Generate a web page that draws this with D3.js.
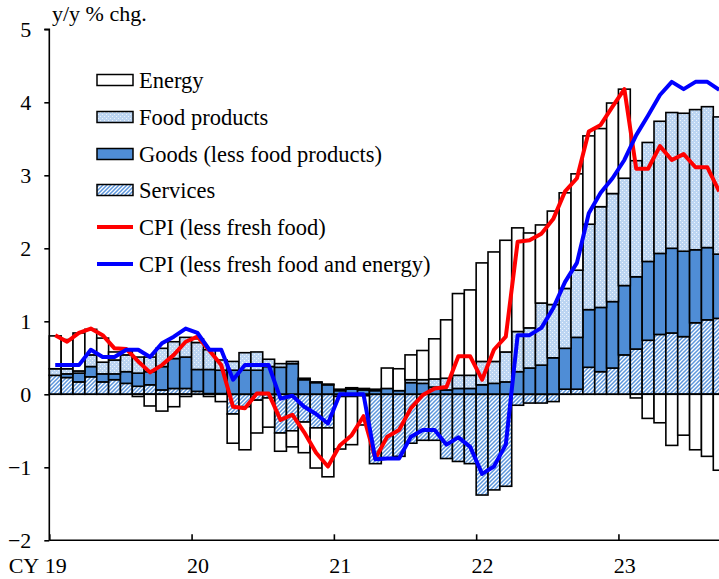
<!DOCTYPE html>
<html><head><meta charset="utf-8">
<script src="https://cdn.jsdelivr.net/npm/d3@7"></script>
<style>
html,body{margin:0;padding:0;background:#fff;}
svg{display:block;font-family:"Liberation Serif","Times New Roman",serif;}
</style></head>
<body>
<svg id="chart" width="719" height="579"></svg>
<script>
// ---- data (contributions, y/y % chg.) Jan 2019 - Sep 2023 ----
const months = [
"2019-01","2019-02","2019-03","2019-04","2019-05","2019-06","2019-07","2019-08","2019-09","2019-10","2019-11","2019-12",
"2020-01","2020-02","2020-03","2020-04","2020-05","2020-06","2020-07","2020-08","2020-09","2020-10","2020-11","2020-12",
"2021-01","2021-02","2021-03","2021-04","2021-05","2021-06","2021-07","2021-08","2021-09","2021-10","2021-11","2021-12",
"2022-01","2022-02","2022-03","2022-04","2022-05","2022-06","2022-07","2022-08","2022-09","2022-10","2022-11","2022-12",
"2023-01","2023-02","2023-03","2023-04","2023-05","2023-06","2023-07","2023-08","2023-09"];

const services = [
.26,.23,.17,.24,.17,.20,.15,.11,.13,.06,.08,.08,
.04,.01,.01,-.27,-.17,-.08,-.05,-.53,-.50,-.38,-.46,-.46,
-.03,-.03,-.02,-.95,-.88,-.85,-.67,-.63,-.63,-.88,-.92,-.95,
-1.38,-1.31,-1.26,-.15,-.12,-.12,-.10,.07,.07,.37,.31,.36,
.54,.62,.74,.82,.84,.79,.98,1.02,1.04];

const goods = [
0,.05,.12,.14,.11,.08,.16,.18,.18,.32,.41,.43,
.30,.33,.32,.33,.33,.33,.38,.37,.42,.20,.16,.13,
.05,.07,.06,.05,.08,.05,.16,.15,.10,.06,.08,.08,
.13,.15,.17,.31,.36,.40,.50,.56,.71,.79,.88,.91,
.95,.99,1.08,1.11,1.16,1.17,1.00,.99,.88];

const food = [
.09,.07,.03,.16,.16,.19,.23,.22,.20,.25,.23,.27,
.37,.27,.14,.12,.24,.25,.10,.05,.03,.02,.01,.01,
.02,.02,.02,0,0,0,.04,.05,.11,.16,.18,.18,
.32,.30,.41,.55,.55,.85,.73,.82,.92,1.17,1.38,1.48,
1.47,1.59,1.63,1.81,1.86,1.89,1.92,1.93,1.88];

const energy = [
.45,.40,.52,.35,.33,.11,.05,-.03,-.16,-.23,-.17,-.03,
.05,-.03,-.10,-.40,-.59,-.45,-.40,-.25,-.22,-.42,-.55,-.67,
-.72,-.66,-.40,.02,.28,.30,.34,.40,.55,.80,1.12,1.17,
1.35,1.50,1.53,1.42,1.30,1.07,1.28,1.31,1.32,1.21,1.07,1.24,
1.22,-.05,-.33,-.39,-.70,-.56,-.76,-.85,-1.04];

const cpiCore = [
.81,.72,.84,.90,.81,.63,.62,.45,.30,.40,.54,.72,
.79,.60,.40,-.17,-.19,.01,.01,-.35,-.28,-.52,-.80,-.99,
-.70,-.56,-.30,-.88,-.58,-.49,-.19,-.01,.08,.10,.52,.52,
.20,.61,.79,2.09,2.11,2.20,2.40,2.78,2.96,3.60,3.69,3.94,
4.18,3.09,3.09,3.40,3.21,3.29,3.11,3.11,2.78];

const cpiCoreCore = [
.40,.40,.40,.61,.51,.51,.61,.61,.51,.70,.79,.90,
.84,.61,.61,.20,.40,.40,.40,-.06,-.02,-.17,-.27,-.40,
0,0,0,-.89,-.88,-.88,-.58,-.49,-.49,-.69,-.59,-.72,
-1.09,-.99,-.69,.81,.81,.91,1.18,1.54,1.80,2.48,2.76,2.96,
3.21,3.55,3.82,4.10,4.28,4.18,4.28,4.28,4.17];

const yTicks = [-2,-1,0,1,2,3,4,5];
const yearStarts = [0,12,24,36,48];
const yearLabels = ["19","20","21","22","23"];
const seriesNames = ["Energy","Food products","Goods (less food products)","Services","CPI (less fresh food)","CPI (less fresh food and energy)"];

// ---- layout ----
const FONT = "Liberation Serif";
const svg = d3.select("#chart");
const x0 = 49.3, step = 11.857;
const x = d3.scaleBand().domain(d3.range(months.length)).range([x0, x0 + step*months.length]).padding(0);
const y = d3.scaleLinear().domain([-2,5]).range([540.3, 29.3]);

const defs = svg.append("defs");
const pf = defs.append("pattern").attr("id","food").attr("patternUnits","userSpaceOnUse").attr("width",4).attr("height",4);
pf.append("rect").attr("width",4).attr("height",4).attr("fill","#bcd5f2");
[[0,0,"#eef4fc"],[2,2,"#eef4fc"]].forEach(p=>{
  pf.append("rect").attr("x",p[0]).attr("y",p[1]).attr("width",1).attr("height",1).attr("fill",p[2]);
});
const ps = defs.append("pattern").attr("id","serv").attr("patternUnits","userSpaceOnUse").attr("width",4).attr("height",4);
ps.append("rect").attr("width",4).attr("height",4).attr("fill","#ffffff");
ps.append("path").attr("d","M-1,1 l2,-2 M0,4 l4,-4 M3,5 l2,-2").attr("stroke","#5b95dc").attr("stroke-width",1.5);

const fills = {services:"url(#serv)", goods:"#4f8dd6", food:"url(#food)", energy:"#ffffff"};
const table = months.map((m,i)=>({services:services[i], goods:goods[i], food:food[i], energy:energy[i]}));
const keys = ["services","goods","food","energy"];
const stack = d3.stack().keys(keys).offset(d3.stackOffsetDiverging)(table);

const gBars = svg.append("g");
stack.forEach(layer=>{
  gBars.append("g").selectAll("rect").data(layer).join("rect")
    .attr("x",(d,i)=>x(i))
    .attr("width",x.bandwidth())
    .attr("y",d=>y(Math.max(d[0],d[1])))
    .attr("height",d=>Math.abs(y(d[0])-y(d[1])))
    .attr("fill",fills[layer.key])
    .attr("stroke","#000").attr("stroke-width",1.6);
});

// zero line
svg.append("line").attr("x1",x0).attr("x2",719).attr("y1",y(0)).attr("y2",y(0)).attr("stroke","#000").attr("stroke-width",1.6);

// lines
const line = d3.line().x((d,i)=>x(i)+x.bandwidth()/2).y(d=>y(d));
svg.append("path").datum(cpiCore).attr("d",line).attr("fill","none").attr("stroke","#ff0000").attr("stroke-width",4).attr("stroke-linejoin","round");
svg.append("path").datum(cpiCoreCore).attr("d",line).attr("fill","none").attr("stroke","#0000ff").attr("stroke-width",4).attr("stroke-linejoin","round");

// axes
const yAxis = d3.axisLeft(y).tickValues(yTicks).tickSize(5).tickPadding(13).tickFormat(d3.format("d"));
const gy = svg.append("g").attr("transform",`translate(${x0},0)`).call(yAxis).attr("font-family",FONT);
gy.select(".domain").attr("stroke","#000").attr("stroke-width",1.6).attr("d",`M-5,${y(5)}H0V${y(-2)}`);
gy.selectAll(".tick line").attr("stroke","#000").attr("stroke-width",1.6);
gy.selectAll("text").attr("font-size",22).attr("fill","#000").attr("font-family",FONT);

const xl = d3.scaleLinear().domain([0,months.length]).range([x0, x0+step*months.length]);
const xAxis = d3.axisBottom(xl).tickValues(yearStarts).tickSize(-6).tickPadding(17)
  .tickFormat((d,i)=>yearLabels[i]);
const gx = svg.append("g").attr("transform",`translate(0,${y(-2)})`).call(xAxis).attr("font-family",FONT);
gx.select(".domain").attr("stroke","#000").attr("stroke-width",1.6).attr("d",`M${x0},0H719`);
gx.selectAll(".tick line").attr("stroke","#000").attr("stroke-width",1.6);
gx.selectAll("text").attr("font-size",22).attr("fill","#000").attr("font-family",FONT)
  .attr("dx", x.bandwidth()/2);
gx.append("text").attr("x",x0+x.bandwidth()/2-16).attr("y",17).attr("dy","0.71em")
  .attr("text-anchor","end").attr("font-size",22).attr("fill","#000").text("CY");

svg.append("text").attr("x",52).attr("y",21).attr("font-size",22).text("y/y % chg.");

// legend
const lg = svg.append("g");
const legendFills = [fills.energy, fills.food, fills.goods, fills.services];
const ly = [80,117,154,190,227,264];
seriesNames.forEach((n,i)=>{
  if(i<4){
    lg.append("rect").attr("x",97).attr("y",ly[i]-5.5).attr("width",36).attr("height",11)
      .attr("fill",legendFills[i]).attr("stroke","#000").attr("stroke-width",1.5);
  } else {
    lg.append("line").attr("x1",97).attr("x2",133).attr("y1",ly[i]).attr("y2",ly[i])
      .attr("stroke", i===4?"#ff0000":"#0000ff").attr("stroke-width",4);
  }
  lg.append("text").attr("x",139).attr("y",ly[i]+7.5).attr("font-size",22.5).text(n);
});
</script>
</body></html>
